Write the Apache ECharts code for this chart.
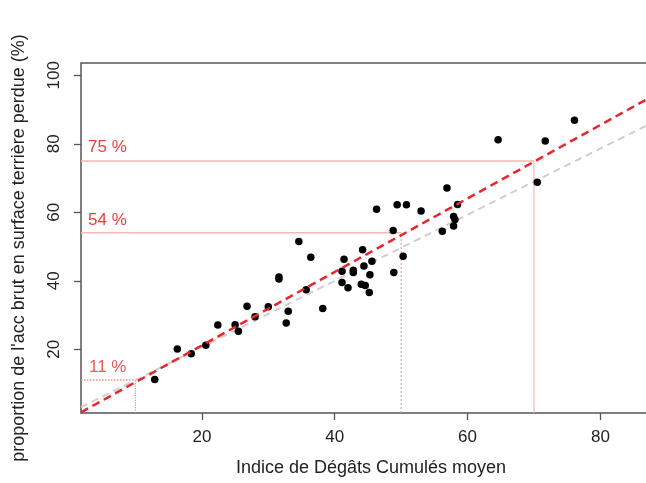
<!DOCTYPE html>
<html><head><meta charset="utf-8">
<script src="https://cdn.jsdelivr.net/npm/echarts@6/dist/echarts.min.js"></script>
<style>html,body{margin:0;padding:0;background:#fff}#c{width:646px;height:483px}</style>
</head><body><div id="c"></div><script>
// Indice de Dégâts Cumulés moyen (x) and proportion perdue (%) (y)
const idcX = [12.9,16.3,18.4,20.6,22.4,25.0,25.5,26.8,28.0,30.0,31.6,31.6,32.7,33.0,34.6,35.7,36.4,38.2,
  41.1,41.1,41.4,42.0,42.8,42.8,44.0,44.2,44.4,44.6,45.2,45.3,45.6,
  48.9,50.3,48.8,46.3,49.4,50.8,53.0,56.9,58.5,57.9,58.1,57.9,56.2,64.6,71.7,70.5,76.1];
const lossY = [11.2,20.1,18.7,21.2,27.1,27.2,25.3,32.6,29.5,32.4,41.1,40.5,27.7,31.1,51.5,37.4,46.9,31.9,
  42.8,39.5,46.3,38.0,43.1,42.4,39.0,49.1,44.3,38.6,36.6,41.8,45.7,
  42.4,47.2,54.7,60.9,62.2,62.2,60.4,67.1,62.3,58.8,57.9,56.0,54.5,81.2,80.8,68.8,86.9];
const xTicks = [20,40,60,80];
const yTicks = [20,40,60,80,100];
// reference readings: IDC -> predicted loss
const refX = [10,50,70];
const refY = [11,54,75];
const refLabels = ['11 %','54 %','75 %'];
// fitted line end points (red) and second line (grey)
const fitX = [1.8, 95];
const fitY = [1.6, 101.6];
const greyX = [1.8, 95];
const greyY = [3.1, 93.1];

const xMin = 1.8, xMax = 95, yMin = 1.4, yMax = 103.6;
const FONT = '"Liberation Sans", Arial, Helvetica, sans-serif';
const pts = idcX.map((x,i)=>[x, lossY[i]]);
const pair = (xs, ys) => xs.map((x,i)=>[x, ys[i]]);

const refSeries = [];
const hStyles = [
  {color:'#f08a84', width:1.5, type:'dotted'},
  {color:'#f7b7b0', width:1.5, type:'solid'},
  {color:'#f7b7b0', width:1.5, type:'solid'}
];
const vStyles = [
  {color:'#f08a84', width:1.2, type:'dotted'},
  {color:'#ee8f8f', width:1, type:[2,2]},
  {color:'#f3aaa6', width:1, type:'solid'}
];
refX.forEach((rx,i)=>{
  refSeries.push({type:'line', data:[[xMin, refY[i]],[rx, refY[i]]], symbol:'none', silent:true,
    lineStyle:hStyles[i], z:1});
  refSeries.push({type:'line', data:[[rx, yMin],[rx, refY[i]]], symbol:'none', silent:true,
    lineStyle:vStyles[i], z:1});
});

const chart = echarts.init(document.getElementById('c'), null, {renderer:'canvas'});
chart.setOption({
  animation:false,
  backgroundColor:'#fff',
  grid:{left:81, top:63, width:619, height:350, show:true, borderColor:'#555', borderWidth:1.5,
    backgroundColor:'#fff', containLabel:false, outerBoundsMode:'none'},
  xAxis:{type:'value', min:xMin, max:xMax, splitLine:{show:false},
    axisLine:{show:false},
    axisTick:{show:true, length:7, lineStyle:{color:'#555', width:1.3}, customValues:xTicks},
    axisLabel:{customValues:xTicks, color:'#222', fontSize:17, fontFamily:FONT, margin:16}},
  yAxis:{type:'value', min:yMin, max:yMax, splitLine:{show:false},
    axisLine:{show:false},
    axisTick:{show:true, length:7, lineStyle:{color:'#555', width:1.3}, customValues:yTicks},
    axisLabel:{customValues:yTicks, color:'#222', fontSize:17, fontFamily:FONT, rotate:90, margin:18}},
  graphic:[
    {type:'text', x:371, y:459, style:{text:'Indice de Dégâts Cumulés moyen', font:'18px '+FONT, fill:'#222', textAlign:'center', textVerticalAlign:'top'}},
    {type:'text', x:10, y:248, rotation:Math.PI/2, style:{text:"proportion de l'acc brut en surface terrière perdue (%)", font:'18px '+FONT, fill:'#222', textAlign:'center', textVerticalAlign:'top'}},
    {type:'text', x:88, y:147, style:{text:refLabels[2], font:'17px '+FONT, fill:'#e8413c', textVerticalAlign:'middle'}},
    {type:'text', x:88, y:220, style:{text:refLabels[1], font:'17px '+FONT, fill:'#e8413c', textVerticalAlign:'middle'}},
    {type:'text', x:89, y:367, style:{text:refLabels[0], font:'17px '+FONT, fill:'#ec5a55', textVerticalAlign:'middle'}}
  ],
  series:[
    ...refSeries,
    {type:'line', data:pair(greyX, greyY), symbol:'none', silent:true, z:2,
      lineStyle:{color:'#cfcfcf', width:2, type:[7,5]}},
    {type:'scatter', data:pts, symbol:'circle', symbolSize:7.5, z:3,
      itemStyle:{color:'#000', opacity:1}},
    {type:'line', data:pair(fitX, fitY), symbol:'none', silent:true, z:4,
      lineStyle:{color:'#e8262b', width:2.5, type:[8,5]}}
  ]
});
</script></body></html>
